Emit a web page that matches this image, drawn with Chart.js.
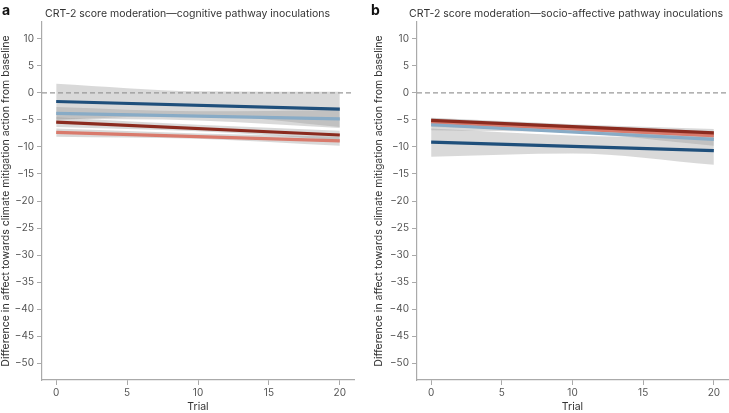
<!DOCTYPE html>
<html>
<head>
<meta charset="utf-8">
<script src="https://cdn.jsdelivr.net/npm/chart.js@4.4.1/dist/chart.umd.min.js"></script>
<style>
  body { margin: 0; background: #fff; }
  .wrap { display: flex; width: 729px; height: 413px; }
  .panel { position: relative; height: 413px; }
</style>
</head>
<body>
<div class="wrap">
  <div class="panel" style="width:365px"><canvas id="chartA"></canvas></div>
  <div class="panel" style="width:364px"><canvas id="chartB"></canvas></div>
</div>
<script>
// trial positions where the fitted values were read
const trials = [0, 10, 20];
const yTicks = [10, 5, 0, -5, -10, -15, -20, -25, -30, -35, -40, -45, -50];
const xTicks = [0, 5, 10, 15, 20];

const groupNames = ["low CRT-2 (dark red)", "mid-low CRT-2 (light red)", "mid-high CRT-2 (light blue)", "high CRT-2 (dark blue)"];
const groupColors = ["#8b2b1f", "#d97a6c", "#88abc6", "#1f4f7b"];

// panel a: cognitive pathway
const cogMean = [
  [-5.4, -6.6, -7.8],
  [-7.3, -8.1, -8.9],
  [-3.8, -4.3, -4.8],
  [-1.6, -2.3, -3.0]
];
const cogLower = [
  [-6.3, -7.1, -8.7],
  [-8.1, -8.5, -9.8],
  [-4.8, -5.1, -6.5],
  [-5.0, -4.2, -6.3]
];
const cogUpper = [
  [-4.5, -5.9, -7.0],
  [-6.6, -7.5, -8.1],
  [-2.6, -3.4, -3.2],
  [1.7, 0.3, 0.2]
];

// panel b: socio-affective pathway
const socMean = [
  [-5.1, -6.3, -7.4],
  [-5.4, -6.6, -7.9],
  [-5.9, -7.2, -8.6],
  [-9.1, -9.9, -10.7]
];
const socLower = [
  [-5.9, -6.8, -8.2],
  [-6.3, -7.0, -8.6],
  [-6.9, -7.4, -9.8],
  [-11.8, -11.2, -13.3]
];
const socUpper = [
  [-4.6, -5.8, -6.7],
  [-4.7, -6.0, -7.1],
  [-5.0, -6.6, -7.6],
  [-6.6, -7.9, -8.3]
];

const FONT = "Inter, 'Open Sans', sans-serif";

function pts(vals) {
  return trials.map((t, i) => ({ x: t, y: vals[i] }));
}

function buildDatasets(mean, lower, upper) {
  const ds = [];
  for (let g = 0; g < mean.length; g++) {
    ds.push({
      data: pts(lower[g]), borderWidth: 0, pointRadius: 0, fill: false,
      cubicInterpolationMode: "monotone", order: 10
    });
    ds.push({
      data: pts(upper[g]), borderWidth: 0, pointRadius: 0,
      fill: "-1", backgroundColor: "rgba(150,150,150,0.36)",
      cubicInterpolationMode: "monotone", order: 10
    });
  }
  const drawOrder = [1, 0, 2, 3];
  drawOrder.forEach((g, k) => {
    ds.push({
      label: groupNames[g], data: [{ x: 0, y: mean[g][0] }, { x: 20, y: mean[g][2] }],
      borderColor: groupColors[g], borderWidth: 3.2, pointRadius: 0, fill: false,
      order: 4 - k
    });
  });
  return ds;
}

const zeroLine = {
  id: "zeroLine",
  beforeDatasetsDraw(chart) {
    const { ctx, chartArea, scales } = chart;
    const y = scales.y.getPixelForValue(0);
    ctx.save();
    ctx.strokeStyle = "#999";
    ctx.lineWidth = 1.3;
    ctx.setLineDash([5, 3]);
    ctx.beginPath();
    ctx.moveTo(chartArea.left, y);
    ctx.lineTo(chartArea.right, y);
    ctx.stroke();
    ctx.restore();
  }
};

const headings = {
  id: "headings",
  afterDraw(chart, args, opts) {
    const { ctx } = chart;
    ctx.save();
    ctx.textBaseline = "alphabetic";
    ctx.fillStyle = "#111";
    ctx.font = "bold 14px " + FONT;
    ctx.fillText(opts.letter, opts.letterX, 15);
    ctx.fillStyle = "#333";
    ctx.font = "10.5px " + FONT;
    ctx.fillText(opts.title, opts.titleX, 17);
    ctx.restore();
  }
};

function makeChart(id, mean, lower, upper, letter, title, leftPad, yWidth, rightPad, letterX, titleX) {
  const ctx = document.getElementById(id).getContext("2d");
  return new Chart(ctx, {
    type: "line",
    data: { datasets: buildDatasets(mean, lower, upper) },
    options: {
      responsive: true,
      maintainAspectRatio: false,
      animation: false,
      layout: { padding: { left: leftPad, right: rightPad, top: 22, bottom: 0 } },
      plugins: {
        legend: { display: false },
        tooltip: { enabled: false },
        headings: { letter: letter, title: title, letterX: letterX, titleX: titleX }
      },
      scales: {
        x: {
          type: "linear", min: -1, max: 21,
          afterBuildTicks: (s) => { s.ticks = xTicks.map((v) => ({ value: v })); },
          afterFit: (s) => { s.height = 33; },
          grid: { drawOnChartArea: false, color: "#aaa", tickLength: 5 },
          border: { color: "#aaa", width: 1.2 },
          ticks: { color: "#555", font: { family: FONT, size: 10 }, padding: 2 },
          title: { display: true, text: "Trial", color: "#333", font: { family: FONT, size: 10.5 }, padding: { top: 0, bottom: 0 } }
        },
        y: {
          type: "linear", min: -53.1, max: 13.1,
          afterBuildTicks: (s) => { s.ticks = yTicks.map((v) => ({ value: v })); },
          afterFit: (s) => { s.width = yWidth; },
          grid: { drawOnChartArea: false, color: "#aaa", tickLength: 5 },
          border: { color: "#aaa", width: 1.2 },
          ticks: { color: "#555", font: { family: FONT, size: 10 }, padding: 3,
            callback: (v) => (v < 0 ? "\u2212" + Math.abs(v) : String(v)) },
          title: { display: true, text: "Difference in affect towards climate mitigation action from baseline",
            color: "#333", font: { family: FONT, size: 10.5 }, padding: { top: 0, bottom: 0 } }
        }
      }
    },
    plugins: [zeroLine, headings]
  });
}

makeChart("chartA", cogMean, cogLower, cogUpper, "a",
  "CRT-2 score moderation\u2014cognitive pathway inoculations", 0, 42, 11, 2, 45);
makeChart("chartB", socMean, socLower, socUpper, "b",
  "CRT-2 score moderation\u2014socio-affective pathway inoculations", 8, 44, 1, 6, 44);
</script>
</body>
</html>
